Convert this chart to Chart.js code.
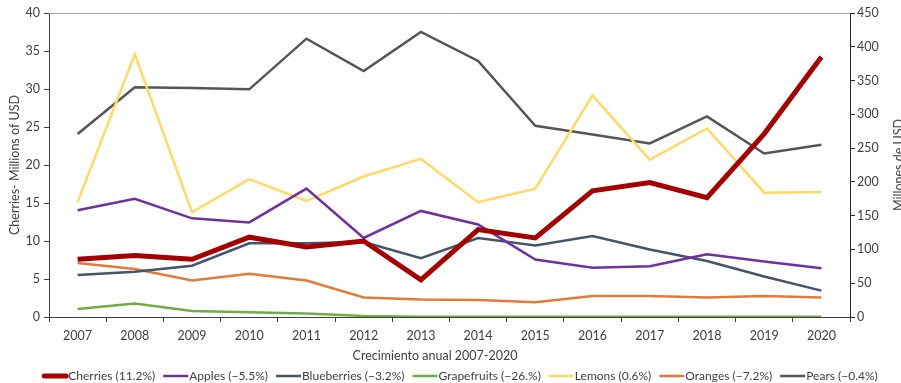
<!DOCTYPE html>
<html>
<head>
<meta charset="utf-8">
<script src="https://cdn.jsdelivr.net/npm/chart.js@4.4.1/dist/chart.umd.min.js"></script>
<style>
  html, body { margin: 0; padding: 0; background: #fff; }
</style>
</head>
<body>
<canvas id="fruitChart" width="901" height="383"></canvas>
<script>
// Export values 2007-2020. Cherries on the left axis, everything else on the right one.
const years = ["2007", "2008", "2009", "2010", "2011", "2012", "2013", "2014", "2015", "2016", "2017", "2018", "2019", "2020"];
const cherries = [7.6, 8.1, 7.6, 10.5, 9.2, 10.0, 4.9, 11.5, 10.4, 16.6, 17.7, 15.7, 24.1, 34.2];
const apples = [158, 175, 146, 140, 190, 117, 157, 137, 85, 73, 75, 93, 82, 72];
const blueberries = [62, 67, 76, 109, 109, 111, 87, 117, 106, 120, 100, 83, 60, 39];
const grapefruits = [12, 20, 9, 7, 5, 1.5, 0.5, 0.4, 0.3, 0.5, 0.5, 0.4, 0.4, 0.3];
const lemons = [170, 389, 155, 204, 172, 208, 234, 170, 190, 328, 233, 279, 184, 185];
const oranges = [80, 71, 54, 64, 54, 29, 26, 25, 22, 31, 31, 29, 31, 29];
const pears = [271, 340, 339, 337, 412, 364, 422, 379, 283, 270, 257, 297, 242, 255];

const fruitNames = ["Cherries", "Apples", "Blueberries", "Grapefruits", "Lemons", "Oranges", "Pears"];
const growthRates = ["11.2%", "\u22125.5%", "\u22123.2%", "\u221226.%", "0.6%", "\u22127.2%", "\u22120.4%"];
const leftTicks = [0, 5, 10, 15, 20, 25, 30, 35, 40];
const rightTicks = [0, 50, 100, 150, 200, 250, 300, 350, 400, 450];

const FONT = "Lato";
const SIZE = 12.5;
const TEXT = "#404040";
const AXIS = "#404040";

const series = [
  { data: cherries, color: "#A50000", width: 5, axis: "y" },
  { data: apples, color: "#7030A0", width: 2.5, axis: "y1" },
  { data: blueberries, color: "#44546A", width: 2.5, axis: "y1" },
  { data: grapefruits, color: "#70AD47", width: 2.5, axis: "y1" },
  { data: lemons, color: "#FFD966", width: 2.5, axis: "y1" },
  { data: oranges, color: "#E07B39", width: 2.5, axis: "y1" },
  { data: pears, color: "#555555", width: 2.5, axis: "y1" },
];

// legend row: 25px line sample, text right after it, small gap between entries
const LEGEND_Y = 376;
const LEGEND_CENTER = 460;
const LEGEND_SIZE = 12;
const SAMPLE = 25;
const GAP = 8;
const X_TITLE = { text: "Crecimiento anual 2007-2020", x: 435, y: 356 };

// frame line along the top, axis titles outside the scales and the legend row
const extras = {
  id: "extras",
  beforeDatasetsDraw(chart) {
    const { ctx, chartArea } = chart;
    ctx.save();
    ctx.strokeStyle = "#a6a6a6";
    ctx.lineWidth = 1;
    ctx.beginPath();
    ctx.moveTo(chartArea.left, chartArea.top + 0.5);
    ctx.lineTo(chartArea.right, chartArea.top + 0.5);
    ctx.stroke();
    ctx.restore();
  },
  afterDraw(chart) {
    const { ctx, chartArea } = chart;
    ctx.save();
    ctx.font = SIZE + "px " + FONT;
    ctx.fillStyle = TEXT;
    ctx.textBaseline = "middle";
    ctx.textAlign = "center";
    ctx.fillText(X_TITLE.text, X_TITLE.x, X_TITLE.y);

    ctx.save();
    ctx.translate(899, (chartArea.top + chartArea.bottom) / 2);
    ctx.rotate(-Math.PI / 2);
    ctx.fillText("Millones de USD", 0, 0);
    ctx.restore();

    ctx.font = LEGEND_SIZE + "px " + FONT;
    const items = chart.data.datasets.map((ds) => ({
      text: ds.label,
      color: ds.borderColor,
      width: ds.borderWidth,
      size: SAMPLE + 1 + ctx.measureText(ds.label).width,
    }));
    const total = items.reduce((a, it) => a + it.size, 0) + GAP * (items.length - 1);
    let x = LEGEND_CENTER - total / 2;
    ctx.textAlign = "left";
    items.forEach((it) => {
      const thick = it.width > 3;
      ctx.strokeStyle = it.color;
      ctx.lineWidth = it.width;
      ctx.lineCap = thick ? "round" : "butt";
      ctx.beginPath();
      ctx.moveTo(x + (thick ? 2 : 0), LEGEND_Y);
      ctx.lineTo(x + SAMPLE - (thick ? 1 : 0), LEGEND_Y);
      ctx.stroke();
      ctx.fillText(it.text, x + SAMPLE + 1, LEGEND_Y);
      x += it.size + GAP;
    });
    ctx.restore();
  },
};

const ctx = document.getElementById("fruitChart").getContext("2d");
new Chart(ctx, {
  type: "line",
  data: {
    labels: years,
    datasets: series.map((s, i) => ({
      label: fruitNames[i] + " (" + growthRates[i] + ")",
      data: s.data,
      yAxisID: s.axis,
      borderColor: s.color,
      backgroundColor: s.color,
      borderWidth: s.width,
      pointRadius: 0,
      tension: 0,
      fill: false,
    })),
  },
  options: {
    responsive: false,
    devicePixelRatio: 1,
    animation: false,
    layout: { padding: { top: 13, left: 0, right: 0, bottom: 21.25 } },
    plugins: {
      tooltip: { enabled: false },
      legend: { display: false },
    },
    scales: {
      x: {
        offset: true,
        afterFit: (scale) => { scale.height = 44.75; },
        grid: { offset: true, drawOnChartArea: false, drawTicks: true, tickLength: 5, color: AXIS },
        border: { color: AXIS, width: 1 },
        ticks: { color: TEXT, padding: 6, maxRotation: 0, font: { family: FONT, size: SIZE } },
      },
      y: {
        position: "left",
        min: 0,
        max: 40,
        afterFit: (scale) => { scale.width = 49; },
        afterBuildTicks: (scale) => { scale.ticks = leftTicks.map((v) => ({ value: v })); },
        grid: { drawOnChartArea: false, tickLength: 5, color: AXIS },
        border: { color: AXIS, width: 1 },
        ticks: { color: TEXT, padding: 4, font: { family: FONT, size: SIZE } },
        title: {
          display: true,
          text: "Cherries- Millions of USD",
          color: TEXT,
          padding: { top: 7, bottom: 0 },
          font: { family: FONT, size: SIZE },
        },
      },
      y1: {
        position: "right",
        min: 0,
        max: 450,
        afterFit: (scale) => { scale.width = 51; },
        afterBuildTicks: (scale) => { scale.ticks = rightTicks.map((v) => ({ value: v })); },
        grid: { drawOnChartArea: false, tickLength: 5, color: "#262626" },
        border: { color: "#262626", width: 1 },
        ticks: { color: TEXT, padding: 2, font: { family: FONT, size: SIZE } },
      },
    },
  },
  plugins: [extras],
});
</script>
</body>
</html>
